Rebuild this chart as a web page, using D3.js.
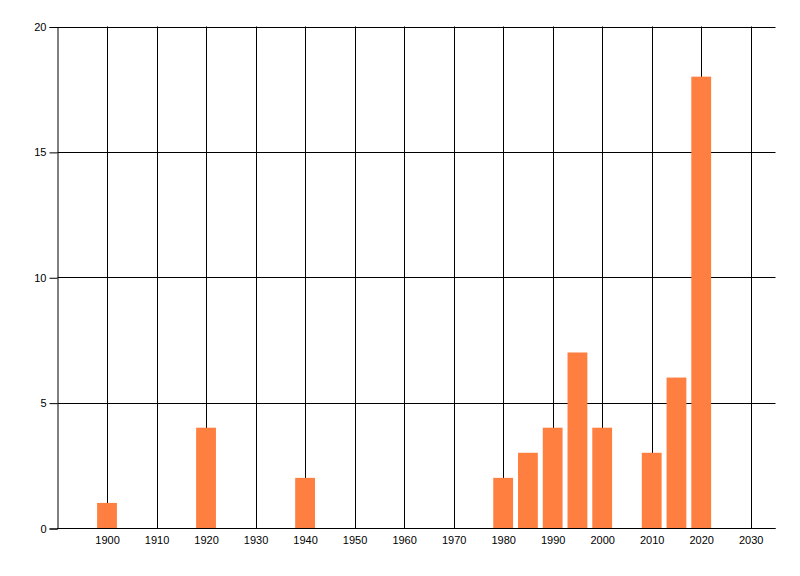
<!DOCTYPE html>
<html><head><meta charset="utf-8">
<script src="https://cdn.jsdelivr.net/npm/d3@7"></script>
<style>body{margin:0;background:#fff}svg{display:block}</style>
</head><body>
<svg id="c" width="800" height="576"></svg>
<script>
const years = [1900, 1920, 1940, 1980, 1985, 1990, 1995, 2000, 2010, 2015, 2020];
const counts = [1, 4, 2, 2, 3, 4, 7, 4, 3, 6, 18];
const xTicks = [1900, 1910, 1920, 1930, 1940, 1950, 1960, 1970, 1980, 1990, 2000, 2010, 2020, 2030];
const yTicks = [0, 5, 10, 15, 20];

const svg = d3.select("#c");
const L = 57.5, R = 775.5, T = 26.5, B = 528;
const x = d3.scaleLinear().domain([1890, 2035]).range([L, R]);
const y = d3.scaleLinear().domain([0, 20]).range([B, T]);
const barW = x(1904) - x(1900);
const font = "'Liberation Sans', Arial, sans-serif";

// vertical gridlines
svg.append("g").selectAll("line").data(xTicks).join("line")
  .attr("x1", d => Math.round(x(d)) + 0.5).attr("x2", d => Math.round(x(d)) + 0.5)
  .attr("y1", T).attr("y2", B)
  .attr("stroke", "#000").attr("stroke-width", 1);
// horizontal gridlines
svg.append("g").selectAll("line").data(yTicks).join("line")
  .attr("x1", L).attr("x2", R)
  .attr("y1", d => Math.round(y(d)) + 0.5).attr("y2", d => Math.round(y(d)) + 0.5)
  .attr("stroke", "#000").attr("stroke-width", 1);

// bars
svg.append("g").selectAll("rect").data(years).join("rect")
  .attr("x", (d) => x(d) - barW / 2)
  .attr("width", barW)
  .attr("y", (d, i) => y(counts[i]))
  .attr("height", (d, i) => B - y(counts[i]))
  .attr("fill", "#FF7F40");

// y axis
const yAxis = d3.axisLeft(y).tickValues(yTicks).tickSize(8).tickPadding(3);
const gy = svg.append("g").attr("transform", `translate(${L},0.5)`).call(yAxis);
gy.select(".domain").attr("stroke", "#000");
gy.selectAll(".tick line").attr("stroke", "#000");
gy.selectAll("text").attr("font-family", font).attr("font-size", 11).attr("fill", "#000");

// x axis
const xAxis = d3.axisBottom(x).tickValues(xTicks).tickSize(0).tickPadding(8).tickFormat(d3.format("d"));
const gx = svg.append("g").attr("transform", `translate(0,${B + 0.5})`).call(xAxis);
gx.select(".domain").attr("stroke", "#000").attr("d", `M${L},0H${R}`);
gx.selectAll("text").attr("font-family", font).attr("font-size", 11).attr("fill", "#000");
</script>
</body></html>
